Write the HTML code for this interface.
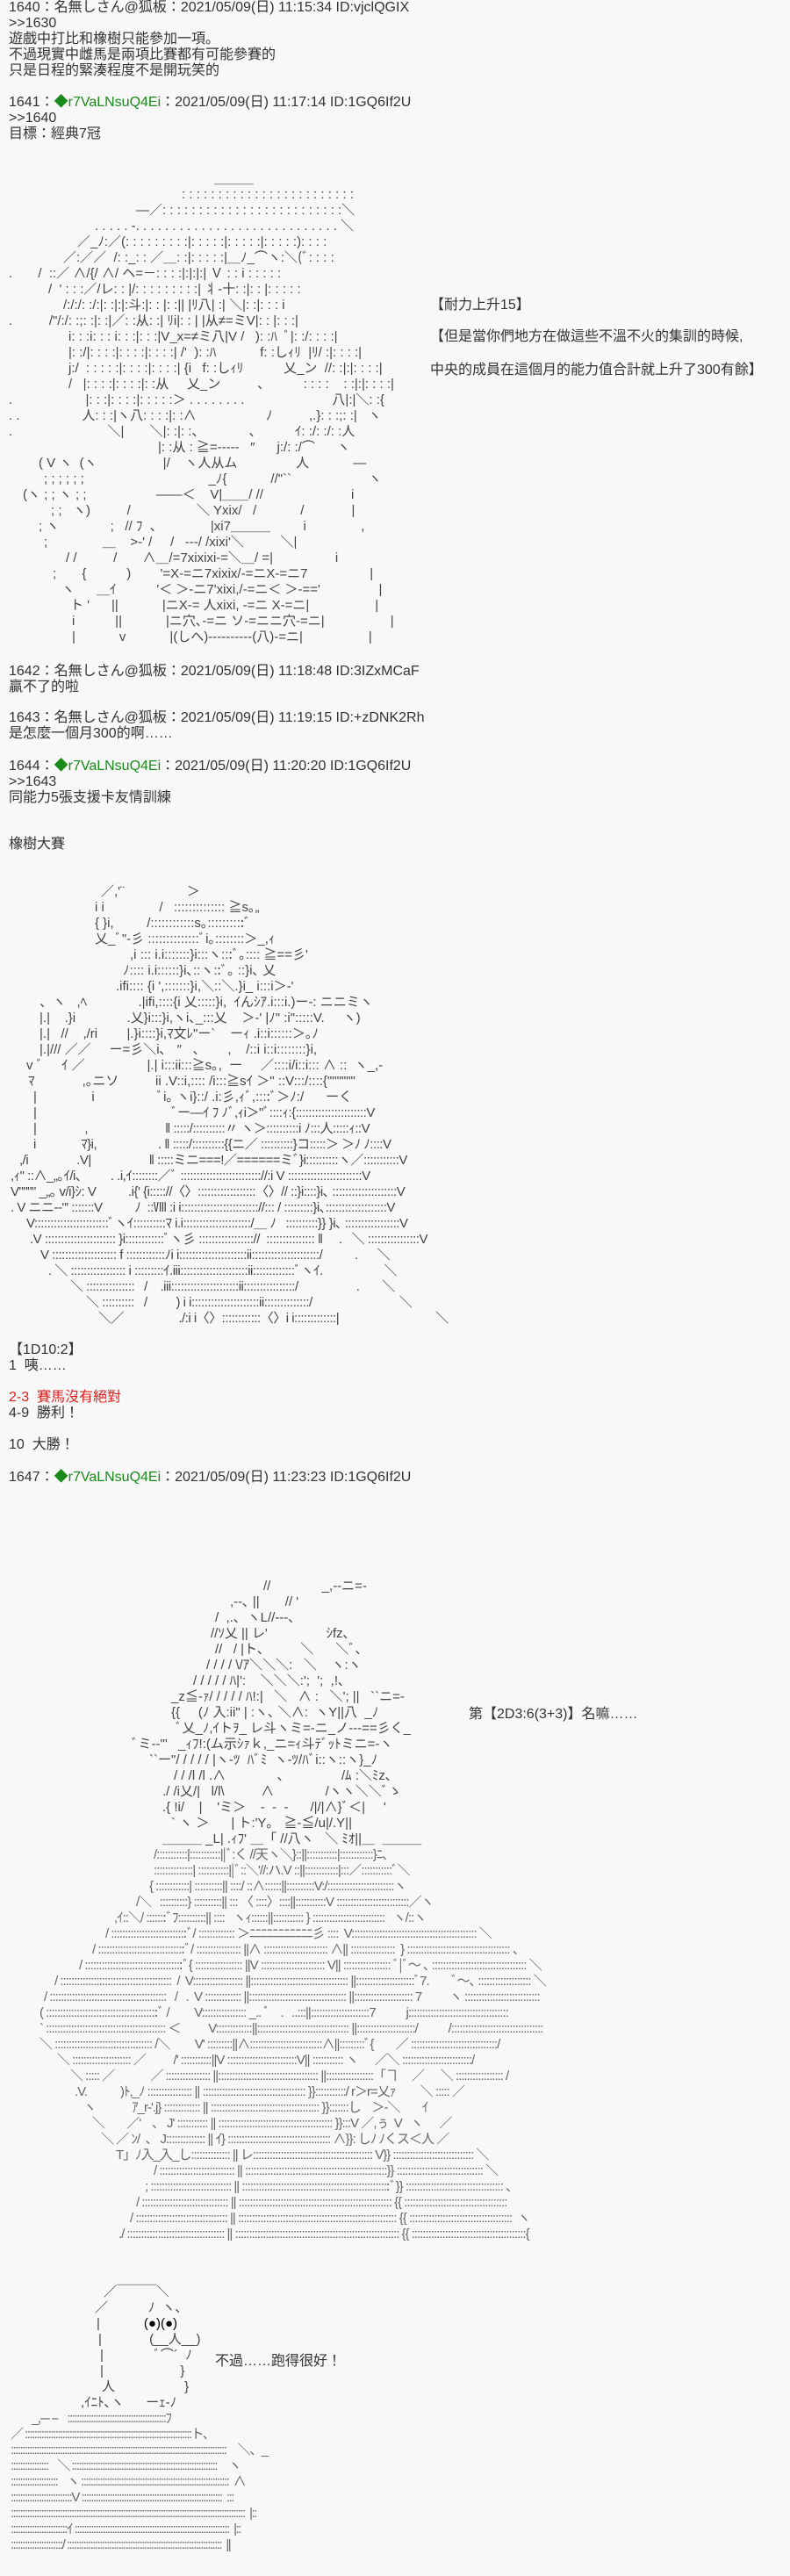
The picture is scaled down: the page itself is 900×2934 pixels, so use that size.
<!DOCTYPE html>
<html><head><meta charset="utf-8">
<style>
html,body{margin:0;padding:0;}
body{width:900px;height:2934px;background:#f8f8f8;position:relative;overflow:hidden;
font-family:"Liberation Sans","Noto Sans CJK JP",sans-serif;font-size:16px;line-height:18px;color:#333;}
.b{position:absolute;left:10px;white-space:pre;}
.g{color:#1a8a1a;}
.r{color:#e02020;}
.a{position:absolute;left:0;white-space:normal;color:#444;font-size:15px;line-height:18px;}
.a div{height:18px;white-space:pre;}
.a div.d1{letter-spacing:-0.5px;}
.a div.d3{letter-spacing:-1px;color:#666;}
.a div.d4{letter-spacing:-1.5px;color:#666;}
</style></head><body>

<div class="b" style="top:0">1640：名無しさん@狐板：2021/05/09(日) 11:15:34 ID:vjclQGIX
&gt;&gt;1630
遊戲中打比和橡樹只能參加一項。
不過現實中雌馬是兩項比賽都有可能參賽的
只是日程的緊湊程度不是開玩笑的</div>

<div class="b" style="top:108px">1641：<span class="g">◆r7VaLNsuQ4Ei</span>：2021/05/09(日) 11:17:14 ID:1GQ6If2U
&gt;&gt;1640
目標：經典7冠</div>

<div class="a" style="top:195px"><div style="padding-left:244px">＿＿＿</div><div style="padding-left:207px">: : : : : : : : : : : : : : : : : : : : : : : :</div><div style="padding-left:155px">―／: : : : : : : : : : : : : : : : : : : : : : : : :＼</div><div style="padding-left:108px">. . . . . -. . . . . . . . . . . . . . . . . . . . . . . . . . . . ＼</div><div style="padding-left:88px">／_ﾉ:／(: : : : : : : : :|: : : : :|: : : : :|: : : : :): : : :</div><div style="padding-left:72px">／:／／  /: :_: : ／＿: :|: : : : :|＿ﾉ_⌒ヽ:＼(ﾞ: : : :</div><div style="padding-left:10px">.       /  ::／ ∧/{/ ∧/ ヘ=－: : : :|:|:|:| Ｖ : : i : : : : :</div><div style="padding-left:55px">/  ' : : :／/レ: : |/: : : : : : : : :| 丬-十: :|: : |: : : : :</div><div style="padding-left:72px">/:/:/: :/:|: :|:|:斗:|: : |: :|| |ﾘ八| :| ＼|: :|: : : i</div><div style="padding-left:10px">.          /"/:/: :;: :|: :|／: :从: :| ﾘi|: : | |从≠=ミV|: : |: : :|</div><div style="padding-left:78px">i: : :i: : : i: : :|: : :|V_x=≠ミ八|V /   ): :ﾊ  ﾞ|: :/: : : :|</div><div style="padding-left:78px">|: :/|: : : :|: : : :|: : : :| /'  ): :ﾊ            f: :しｨﾘ  |ﾘ/ :|: : : :|</div><div style="padding-left:78px">j:/  : : : : :|: : : :|: : : :| {i   f: :しｨﾘ           乂_ン  //: :|:|: : : :|</div><div style="padding-left:78px">/   |: : : :|: : : :|: :从     乂_ン          、         : : : :    : :|:|: : : :|</div><div style="padding-left:10px">.                    |: : :|: : : :|: : : : :＞ . . . . . . . .                        八|:|＼: :{</div><div style="padding-left:10px">. .                 人: : :|ヽ八: : : :|: :∧                   ﾉ          ,.}: : :;: :|   ヽ</div><div style="padding-left:10px">.                          ＼|       ＼|: :|: :、            、         ｲ: :/: :/: :人</div><div style="padding-left:180px">|: :从 : ≧=-----   ″      j:/: :/⌒      ヽ</div><div style="padding-left:44px">( V ヽ  (ヽ                  |/    ヽ人从ム                人            ―</div><div style="padding-left:50px">; ; ; ; ; ;                                  _ﾉ{            //"``                     ヽ</div><div style="padding-left:26px">(ヽ ; ; ヽ ; ;                   ――＜    V|＿＿/ //                        i</div><div style="padding-left:58px">; ;   ヽ)          /                  ＼ Yxix/   /            /             |</div><div style="padding-left:44px">; ヽ              ;   // ﾌ  、             |xi7＿＿＿         i               ,</div><div style="padding-left:50px">;               ＿    &gt;-' /     /   ---/ /xixi'＼          ＼|</div><div style="padding-left:75px">/ /          /       ∧＿/=7xixixi-=＼＿/ =|                 i</div><div style="padding-left:60px">;       {           )        '=X-=ニ7xixix/-=ニX-=ニ7                 |</div><div style="padding-left:70px">ヽ      ＿ｲ           '＜ ＞-ニ7'xixi,/-=ニ＜ ＞-=='                |</div><div style="padding-left:80px">ト '      ||            |ニX-= 人xixi, -=ニ X-=ニ|                  |</div><div style="padding-left:82px">i           ||            |ニ穴､-=ニ ソ-=ニニ穴-=ニ|                  |</div><div style="padding-left:82px">|            v            |(しへ)----------(八)-=ニ|                  |</div></div>

<div class="b" style="top:339px;left:490px">【耐力上升15】</div>
<div class="b" style="top:375px;left:490px">【但是當你們地方在做這些不溫不火的集訓的時候,</div>
<div class="b" style="top:413px;left:490px">中央的成員在這個月的能力值合計就上升了300有餘】</div>

<div class="b" style="top:756px">1642：名無しさん@狐板：2021/05/09(日) 11:18:48 ID:3IZxMCaF
贏不了的啦</div>
<div class="b" style="top:809px">1643：名無しさん@狐板：2021/05/09(日) 11:19:15 ID:+zDNK2Rh
是怎麼一個月300的啊……</div>
<div class="b" style="top:864px">1644：<span class="g">◆r7VaLNsuQ4Ei</span>：2021/05/09(日) 11:20:20 ID:1GQ6If2U
&gt;&gt;1643
同能力5張支援卡友情訓練</div>
<div class="b" style="top:953px">橡樹大賽</div>

<div class="a" style="top:1007px"><div style="padding-left:115px">／,'¨                 ＞</div><div style="padding-left:108px">i i               /   :::::::::::::: ≧s｡„</div><div style="padding-left:108px">{ }i,         /::::::::::::s｡::::::::::ﾞ</div><div style="padding-left:108px">乂_ﾞ"-彡 ::::::::::::::ﾞi｡::::::::＞_,ｨ</div><div style="padding-left:148px">,i ::: i.i:::::::}i:::ヽ:::ﾞ｡:::: ≧==彡'</div><div style="padding-left:140px">ﾉ:::: i.i::::::}i､::ヽ::ﾞ｡ ::}i､ 乂</div><div style="padding-left:132px">.ifi:::: {i ',:::::::}i,＼::＼.}i_ i:::i＞-'</div><div style="padding-left:45px">、ヽ   ,ﾍ              .|ifi,::::{i 乂:::::}i,  ｲんｼｱ.i:::i.)ー-: ニニミヽ</div><div style="padding-left:45px">|.|    .}i              .乂}i:::}i,ヽi､_:::乂    ＞-' |ﾉ" :i":::::V.     ヽ)</div><div style="padding-left:45px">|.|   //    ,/ri        |.}i::::}i,ﾏ文ﾚ"ー`    ーｨ .i::i::::::＞｡ﾉ</div><div style="padding-left:45px">|.|/// ／／     ー=彡＼i､   ″   、      ,    /::i i::i::::::::}i,</div><div style="padding-left:30px">v ﾞ     ｲ ／                 |.| i:::ii:::≧s｡,  ー     ／::::i/i::i::: ∧ ::  ヽ_,-</div><div style="padding-left:32px">ﾏ             ,｡ニソ          ii .V::i,:::: /i:::≧sｲ ＞" ::V:::/::::{""""""</div><div style="padding-left:38px">|               i                 ﾞi｡ ヽi}::/ .i:彡,ｨﾞ,::::ﾞ＞ﾉ:/      ーく</div><div class="d1" style="padding-left:38px">|                                          ﾞー―ｲ ﾌ ﾉﾞ,ｨi＞"ﾞ::::ｨ:{::::::::::::::::::::::V</div><div class="d1" style="padding-left:38px">|               ,                        ‖ :::::/::::::::::〃 ヽ＞::::::::::i ﾉ:::人:::::ｨ::V</div><div class="d1" style="padding-left:38px">i              ﾏ}i,                   . ‖ :::::/::::::::::{{ニ／ ::::::::::}コ:::::＞ ＞ﾉ ﾉ::::V</div><div class="d1" style="padding-left:22px">,/i               .V|                  ‖ :::::ミニ===!／======ミﾞ}i::::::::::ヽ／:::::::::::V</div><div class="d1" style="padding-left:12px">,ｨ" ::∧_„｡ｲ/i､         . .i,ｲ::::::::／ﾞ ::::::::::::::::::::::::://:i V :::::::::::::::::::::::V</div><div class="d1" style="padding-left:12px">V"""" _„｡ v/i}ｼ: V          .i{' {i::::://〈〉::::::::::::::::::〈〉// ::}i::::}i､ ::::::::::::::::::::V</div><div class="d1" style="padding-left:12px">. V ニニ--"' :::::::V          ﾉ  ::Ⅷ :i i:::::::::::::::::::::::://::: / :::::::::}i､:::::::::::::::::::V</div><div class="d1" style="padding-left:30px">V:::::::::::::::::::::::ﾞヽｲ::::::::::ﾏ i.i:::::::::::::::::::::/＿ ﾉ   ::::::::::}} }i､ :::::::::::::::::V</div><div class="d1" style="padding-left:34px">.V :::::::::::::::::::::: }i::::::::::::ﾞヽ彡 ::::::::::::::::://  ::::::::::::::: ‖     .   ＼ ::::::::::::::::V</div><div class="d1" style="padding-left:46px">V :::::::::::::::::::: f ::::::::::::ﾉi i:::::::::::::::::::::ii:::::::::::::::::::::/          .      ＼</div><div class="d1" style="padding-left:55px">. ＼ ::::::::::::::::: i :::::::::ｲ.iii:::::::::::::::::::::ii:::::::::::::ﾞヽｲ.                   ＼</div><div class="d1" style="padding-left:80px">＼ :::::::::::::::   /    .iii:::::::::::::::::::::ii::::::::::::::::/                  .       ＼</div><div class="d1" style="padding-left:98px">＼ ::::::::::   /         ) i i:::::::::::::::::::::ii::::::::::::::/                           ＼</div><div class="d1" style="padding-left:112px">＼／                 ./:i i〈〉::::::::::::〈〉i i:::::::::::::|                              ＼</div></div>

<div class="b" style="top:1529px">【1D10:2】
1  咦……

<span class="r">2-3  賽馬沒有絕對</span>
4-9  勝利！

10  大勝！</div>
<div class="b" style="top:1674px">1647：<span class="g">◆r7VaLNsuQ4Ei</span>：2021/05/09(日) 11:23:23 ID:1GQ6If2U</div>

<div class="a" style="top:1798px"><div style="padding-left:300px">//              _,-‐ニ=-</div><div style="padding-left:262px">,--､ ||       // '</div><div style="padding-left:245px">/  ,.､  ヽL//‐--､</div><div style="padding-left:240px">//ｿ乂 || レ'                ｼfz､</div><div style="padding-left:245px">//   / |ト､          ＼      ＼ﾞ､</div><div style="padding-left:235px">/ / / / \/ｱ＼＼＼:   ＼    ヽ:ヽ</div><div style="padding-left:220px">/ / / / / ﾊ|':    ＼＼＼:';  ';  ,!､</div><div style="padding-left:195px">_z≦-ｧ/ / / / / ﾊ!:|   ＼   ∧ :   ＼'; ||   ``ニ=-</div><div style="padding-left:195px">{{     (ﾉ 入:ii" | :ヽ､ ＼∧:  ヽY||八  _ﾉ</div><div style="padding-left:200px">ﾞ乂_ﾉ,ｲトｦ_ レ斗ヽミ=-ニ_ノ---==彡く_</div><div style="padding-left:150px">ﾞミ--"'   _ｨﾌ!:(ム示ｼｧｋ,_ニ=ｨ斗ﾃﾞｯﾄミニ=-ヽ</div><div style="padding-left:170px">``ー"/ / / / / |ヽ-ﾂ  ﾊﾞﾐ  ヽ-ﾂ/ﾊﾞi::ヽ::ヽ}_ﾉ</div><div style="padding-left:198px">/ / /l /l .∧              、              /ﾑ :＼ﾐz､</div><div style="padding-left:185px">./ /i乂/|   l/l\          ∧              /ヽヽ＼＼ﾞゝ</div><div style="padding-left:185px">.{ !i/    |    'ミ＞    ‐  ‐  ‐      /|/|∧}ﾞ＜|     '</div><div style="padding-left:195px">` ヽ ＞      | ト:'Y｡   ≧-≦/u|/.Y||</div><div style="padding-left:185px">＿＿＿ _L| .ｨﾌ' ＿「 //八ヽ   ＼ ﾐｵ||＿  ＿＿＿</div><div class="d3" style="padding-left:175px">/:::::::::::|:::::::::::||ﾞ:く //天ヽ＼}::||:::::::::::|::::::::::::}ﾆ､</div><div class="d3" style="padding-left:175px">::::::::::::::| :::::::::::||ﾞ::＼'//:ハ.V ::||::::::::::::|:::／:::::::::::ﾞ＼</div><div class="d3" style="padding-left:170px">{ ::::::::::::| ::::::::::|| ::::/ ::∧::::::||::::::::::V:/::::::::::::::::::::::::ヽ</div><div class="d3" style="padding-left:155px">/＼   ::::::::::} ::::::::::|| ::: 〈 ::::〉::::||:::::::::::V ::::::::::::::::::::::::::／ヽ</div><div class="d3" style="padding-left:130px">,ｲ::＼/ :::::::ﾞﾌ::::::::::|| ::::   ヽｨ::::::||::::::::::: } ::::::::::::::::::::::::::   ヽ/::ヽ</div><div class="d3" style="padding-left:120px">/ :::::::::::::::::::::::::::ﾞ/ ::::::::::::: ＞ﾆﾆﾆﾆﾆﾆﾆﾆﾆﾆﾆ彡 ::::  V::::::::::::::::::::::::::::::::::::::::::::: ＼</div><div class="d3" style="padding-left:105px">/ :::::::::::::::::::::::::::::::ﾞ/ :::::::::::::::: ||∧ ::::::::::::::::::::::: ∧|| ::::::::::::::::  } ::::::::::::::::::::::::::::::::::::: 、</div><div class="d3" style="padding-left:90px">/ :::::::::::::::::::::::::::::::::::ﾞ{ ::::::::::::::::: ||V ::::::::::::::::::::::: V|| ::::::::::::::::: ﾞ|ﾞ～ ､ :::::::::::::::::::::::::::::::::: ＼</div><div class="d3" style="padding-left:62px">/ ::::::::::::::::::::::::::::::::::::::::  /  V:::::::::::::::::: ||::::::::::::::::::::::::::::::::::: ||:::::::::::::::::::::ﾞ7.        ﾞ～､ ::::::::::::::::::: ＼</div><div class="d3" style="padding-left:50px">/ ::::::::::::::::::::::::::::::::::::::::::   /   .  V ::::::::::::: ||::::::::::::::::::::::::::::::::::: ||::::::::::::::::::::: 7          ヽ :::::::::::::::::::::::::::</div><div class="d3" style="padding-left:45px">( ::::::::::::::::::::::::::::::::::::::::ﾞ /         V:::::::::::::::: _.. ﾞ    .   ..:::||:::::::::::::::::::::7           j::::::::::::::::::::::::::::::::::::</div><div class="d3" style="padding-left:45px">` ::::::::::::::::::::::::::::::::::::::::::: ＜          V:::::::::::::||::::::::::::::::::::::::::::::::: ||:::::::::::::::::::::/           /:::::::::::::::::::::::::::::::::</div><div class="d3" style="padding-left:45px">＼ ::::::::::::::::::::::::::::::::::: /＼         V' :::::::::||∧::::::::::::::::::::::::::∧||:::::::::ﾞ{        ／ :::::::::::::::::::::::::::::::/</div><div class="d3" style="padding-left:65px">＼ ::::::::::::::::::::: ／          /' :::::::::::||V :::::::::::::::::::::::::V|| ::::::::::: ヽ      ／＼ :::::::::::::::::::::::::/</div><div class="d3" style="padding-left:80px">＼ ::::: ／             ／ :::::::::::::::: ||:::::::::::::::::::::::::::::::::::: ||:::::::::::::::::「ヿ     ／      ＼ ::::::::::::::::: /</div><div class="d3" style="padding-left:85px">.V.            )ﾄ,_ﾉ :::::::::::::::: || ::::::::::::::::::::::::::::::::::::: }}:::::::::::/ r＞r=乂ｧ         ＼ ::::: ／</div><div class="d3" style="padding-left:95px">ヽ             ｱ_r‐'.j} ::::::::::::: || ::::::::::::::::::::::::::::::::::::::: }}:::::::し    ＞-＼        ｲ</div><div class="d3" style="padding-left:105px">＼        ／'    、 J' ::::::::::: || ::::::::::::::::::::::::::::::::::::::::: }}:::V ／,ぅ  V   ヽ      ／</div><div class="d3" style="padding-left:115px">＼ ／ ﾝ/  、 J:::::::::::::: || ｲ} ::::::::::::::::::::::::::::::::::::: ∧}}: しﾉ ﾉくス＜人 ／</div><div class="d3" style="padding-left:132px">T」ﾉ入_入_し:::::::::::::: || レ::::::::::::::::::::::::::::::::::::::::::: V}} ::::::::::::::::::::::::::::: ＼</div><div class="d3" style="padding-left:175px">/ ::::::::::::::::::::::::::: || :::::::::::::::::::::::::::::::::::::::::::::::::::}} ::::::::::::::::::::::::::::::: ＼</div><div class="d3" style="padding-left:165px">; ::::::::::::::::::::::::::::: || :::::::::::::::::::::::::::::::::::::::::::::::::::::ﾞ}} ::::::::::::::::::::::::::::::::::: 、</div><div class="d3" style="padding-left:155px">/ ::::::::::::::::::::::::::::::: || ::::::::::::::::::::::::::::::::::::::::::::::::::::::: {{ :::::::::::::::::::::::::::::::::::::</div><div class="d3" style="padding-left:148px">/ ::::::::::::::::::::::::::::::::: || ::::::::::::::::::::::::::::::::::::::::::::::::::::::::: {{ :::::::::::::::::::::::::::::::::::::  ヽ</div><div class="d3" style="padding-left:135px">./ ::::::::::::::::::::::::::::::::::: || ::::::::::::::::::::::::::::::::::::::::::::::::::::::::::: {{ :::::::::::::::::::::::::::::::::::::::::{</div></div>
<div class="b" style="top:1944px;left:534px">第【2D3:6(3+3)】名嘛……</div>

<div class="a" style="top:2602px"><div style="padding-left:118px">／￣￣￣＼</div><div style="padding-left:108px">／           ﾉ  ヽ､</div><div style="padding-left:110px">|            <span style="color:#000">(●)(●)</span></div><div style="padding-left:112px">|             (__人__)</div><div style="padding-left:114px">|              ﾞ⌒´  ﾉ</div><div style="padding-left:114px">|                     }</div><div style="padding-left:116px">人                   }</div><div style="padding-left:92px">,ｲﾆﾄ､ヽ      ーｪ-ﾉ</div><div class="d4" style="padding-left:36px">_,--‐ ‐‐    ::::::::::::::::::::::::::::::::::::::::::ﾌ</div><div class="d4" style="padding-left:12px">／ :::::::::::::::::::::::::::::::::::::::::::::::::::::::::::::::::::::::ト､</div><div class="d4" style="padding-left:12px">::::::::::::::::::::::::::::::::::::::::::::::::::::::::::::::::::::::::::::::::::::::::::::     ＼、_</div><div class="d4" style="padding-left:12px">::::::::::::::::    ＼ ::::::::::::::::::::::::::::::::::::::::::::::::::::::::::::::     ヽ</div><div class="d4" style="padding-left:12px">::::::::::::::::::::    ヽ :::::::::::::::::::::::::::::::::::::::::::::::::::::::::::::::  ∧</div><div class="d4" style="padding-left:12px">::::::::::::::::::::::::::V ::::::::::::::::::::::::::::::::::::::::::::::::::::::::::::  :::</div><div class="d4" style="padding-left:12px">::::::::::::::::::::::::::::::::::::::::::::::::::::::::::::::::::::::::::::::::::::::::::::::::::::  |::</div><div class="d4" style="padding-left:12px">::::::::::::::::::::::::ｲ ::::::::::::::::::::::::::::::::::::::::::::::::::::::::::::::::::  |::</div><div class="d4" style="padding-left:12px">::::::::::::::::::::::/ ::::::::::::::::::::::::::::::::::::::::::::::::::::::::::::::::::  ||</div></div>
<div class="b" style="top:2681px;left:245px">不過……跑得很好！</div>

</body></html>
